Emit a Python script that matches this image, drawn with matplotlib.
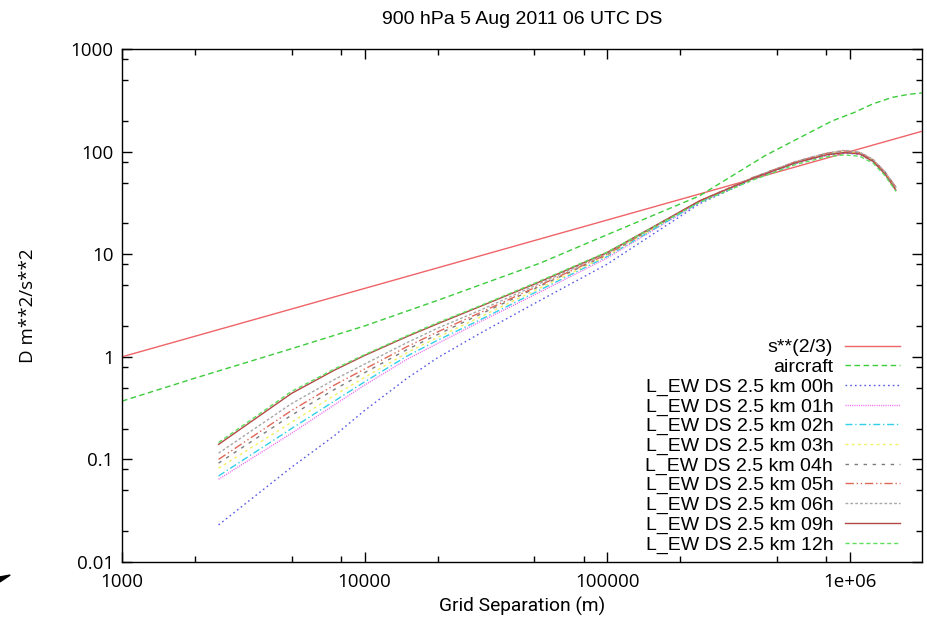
import matplotlib
matplotlib.use("Agg")
import matplotlib.pyplot as plt
from matplotlib.patches import Polygon

# separations (m) and structure function values
s_ref = [1000, 2000000]
d_ref = [1.0, 158.7]

s_air = [1000, 2000, 5000, 10000, 20000, 53000, 100000, 240000, 450000,
         700000, 850000, 1040000, 1250000, 1500000, 1750000, 2000000]
d_air = [0.37, 0.62, 1.2, 2.0, 3.55, 8.2, 15.5, 37, 92,
         158, 200, 240, 293, 338, 362, 374]

s_mod = [2500, 5000, 7500, 10000, 15000, 20000, 30000, 50000, 100000, 240000, 400000,
         600000, 800000, 950000, 1100000, 1250000, 1400000, 1550000]

d_00h = [0.023, 0.084, 0.17, 0.30, 0.62, 0.98, 1.70, 3.3, 8.0, 31, 54, 77, 92, 97, 94, 80, 61, 43]
d_01h = [0.064, 0.18, 0.34, 0.53, 0.95, 1.35, 2.2, 4.0, 9.2, 32, 55, 78, 93, 98, 95, 81, 61, 43]
d_02h = [0.069, 0.20, 0.37, 0.57, 1.02, 1.45, 2.3, 4.2, 9.5, 32, 55, 78, 94, 99, 96, 81, 62, 44]
d_03h = [0.082, 0.23, 0.42, 0.63, 1.10, 1.55, 2.45, 4.4, 9.7, 33, 55, 79, 95, 100, 97, 82, 62, 44]
d_04h = [0.092, 0.27, 0.48, 0.70, 1.18, 1.65, 2.6, 4.6, 9.9, 33, 56, 80, 96, 102, 98, 83, 63, 45]
d_05h = [0.100, 0.30, 0.53, 0.76, 1.26, 1.75, 2.7, 4.7, 10.0, 33, 56, 80, 96, 102, 98, 83, 63, 45]
d_06h = [0.115, 0.35, 0.60, 0.85, 1.38, 1.90, 2.85, 4.9, 10.2, 33, 56, 80, 97, 103, 99, 84, 63, 45]
d_09h = [0.140, 0.44, 0.74, 1.03, 1.58, 2.10, 3.1, 5.1, 10.4, 33, 55, 78, 93, 98, 95, 80, 60, 42]
d_12h = [0.146, 0.46, 0.76, 1.05, 1.61, 2.15, 3.15, 5.2, 10.5, 32, 53, 75, 89, 93, 90, 77, 58, 41]

hours = ["00h", "01h", "02h", "03h", "04h", "05h", "06h", "09h", "12h"]
model = [d_00h, d_01h, d_02h, d_03h, d_04h, d_05h, d_06h, d_09h, d_12h]
colors = ["#5a5ae6", "#f070f0", "#30d0e8", "#f4f060", "#7c7c7c",
          "#e06858", "#a8a8a8", "#b44848", "#5ee05e"]
styles = [(0, (1.2, 2.2)), (0, (0.8, 0.8)), (0, (5, 2, 1, 2)), (0, (2, 2.5)),
          (0, (2.5, 4)), (0, (6, 2, 1, 2, 1, 2)), (0, (2, 1.5)), "-", (0, (3, 2))]

x_ticks = [1000, 10000, 100000, 1000000]
x_labels = ["1000", "10000", "100000", "1e+06"]
y_ticks = [0.01, 0.1, 1, 10, 100, 1000]
y_labels = ["0.01", "0.1", "1", "10", "100", "1000"]

fig = plt.figure(figsize=(9.28, 6.23), dpi=100)
ax = fig.add_axes([0.1315, 0.0979, 0.8617, 0.8234])

ax.plot(s_ref, d_ref, color="#ee6468", lw=1.0, label="s**(2/3)")
ax.plot(s_air, d_air, color="#3ccc3c", lw=1.0, ls=(0, (4, 2.5)), label="aircraft")
for h, d, c, st in zip(hours, model, colors, styles):
    ax.plot(s_mod, d, color=c, lw=1.0, ls=st, label=f"L_EW DS 2.5 km {h}")

ax.set_xscale("log")
ax.set_yscale("log")
ax.set_xlim(1000, 1.98e6)
ax.set_ylim(0.01, 1000)

ax.set_xticks(x_ticks, x_labels)
ax.set_yticks(y_ticks, y_labels)
minor = [m * 10 ** e for e in range(-2, 7) for m in (2, 5, 8)]
ax.set_xticks([v for v in minor if 1000 < v < 1.98e6], minor=True)
ax.set_yticks([v for v in minor if 0.01 < v < 1000], minor=True)
ax.tick_params(which="both", direction="in", top=True, right=True, width=1.0)
ax.tick_params(which="major", length=7, labelsize=13.5, pad=6)
ax.tick_params(axis="x", which="major", pad=8)
ax.tick_params(which="minor", length=4)
for lab in ax.get_xticklabels() + ax.get_yticklabels():
    lab.set_family("Open Sans")
for sp in ax.spines.values():
    sp.set_linewidth(1.0)

ax.set_title("900 hPa 5 Aug 2011 06 UTC DS", family="Liberation Sans", fontsize=14, pad=18)
ax.set_xlabel("Grid Separation (m)", family="Roboto", fontsize=13.8, labelpad=4)
ax.set_ylabel("D m**2/s**2", family="Open Sans", fontsize=13.5, labelpad=24)

ax.legend(loc="lower right", bbox_to_anchor=(0.983, 0.001), borderaxespad=0,
          frameon=False, markerfirst=False,
          handlelength=2.85, handletextpad=0.6, labelspacing=0.1,
          prop={"family": "Liberation Sans", "size": 14})

# small cursor mark at the bottom-left corner of the screenshot
fig.patches.append(Polygon([[0.0, 0.066], [0.011, 0.077], [0.0, 0.074]], closed=True,
                           transform=fig.transFigure, color="black"))

fig.savefig("out.png", dpi=100)
